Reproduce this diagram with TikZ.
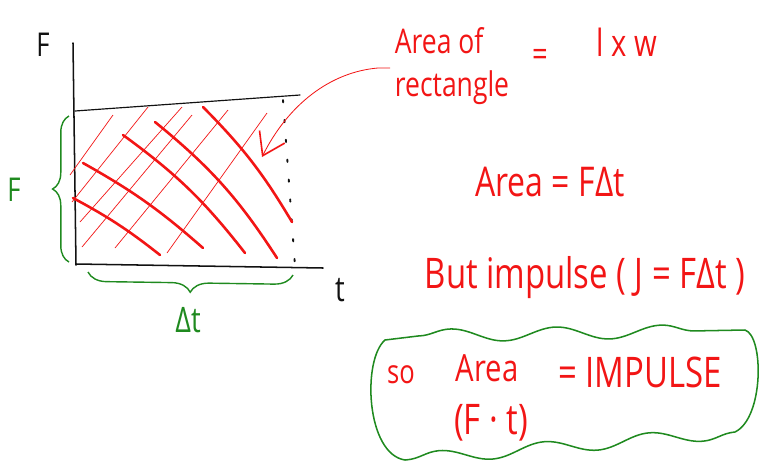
\documentclass[tikz,border=0pt]{standalone}
\usepackage{fontspec}
\setmainfont{Open Sans}[FakeStretch=0.78]
\usetikzlibrary{arrows.meta,positioning,decorations.pathreplacing,decorations.pathmorphing}
\definecolor{InkRed}{HTML}{F21515}
\definecolor{InkGreen}{HTML}{1F8A1F}
\definecolor{InkBlack}{HTML}{111111}

\begin{document}
\begin{tikzpicture}[
  x=0.03cm, y=-0.03cm,
  txt/.style={inner sep=0pt, font=\fontsize{#1}{#1}\selectfont},
  redtxt/.style={txt=#1, color=InkRed},
  greentxt/.style={txt=#1, color=InkGreen},
  axis/.style={InkBlack, line width=1.3pt, line cap=round},
  thinhatch/.style={InkRed, line width=0.6pt},
  thickhatch/.style={InkRed, line width=2.2pt, line cap=round},
  bracket/.style={InkGreen, line width=1.2pt, decorate,
                  decoration={brace, amplitude=#1}},
  pointer/.style={InkRed, line width=0.7pt,
                  -{Straight Barb[length=18pt, width=24pt, line width=1.4pt]}},
  cloud/.style={InkGreen, line width=1.3pt, line join=round,
                decoration={snake, amplitude=5.5pt, segment length=90pt}}
]
  \useasboundingbox (0,0) rectangle (759,469);

  % axes and the rectangle
  \node[txt=28, color=InkBlack] (lblF) at (43,45) {F};
  \node[txt=30, color=InkBlack] (lblt) at (340,290) {t};
  \draw[axis] (73,43) -- (76,265);
  \draw[axis] (76,264) -- (323,268);
  \draw[axis, line width=1pt] (75,111) -- (300,95);
  \draw[axis, line width=1.6pt, dash pattern=on 2pt off 15pt] (283,100) -- (295,266);

  % hatching
  \draw[thinhatch] (70,175) -- (113,115);
  \draw[thinhatch] (72,202) -- (148,107);
  \draw[thinhatch] (80,222) -- (182,107);
  \draw[thinhatch] (82,247) -- (192,115);
  \draw[thinhatch] (115,248) -- (228,110);
  \draw[thinhatch] (167,253) -- (267,113);
  \draw[thickhatch] (73,198) to[bend left=5] (160,255);
  \draw[thickhatch] (83,163) to[bend left=6] (203,248);
  \draw[thickhatch] (123,135) to[bend left=8] (245,253);
  \draw[thickhatch] (155,122) to[bend left=9] (277,258);
  \draw[thickhatch] (203,107) to[bend left=7] (292,222);

  % sides
  \draw[bracket=14pt] (69,262) -- (69,116);
  \draw[bracket=16pt] (293,275) -- (88,272);
  \node[greentxt=28] (lblside) at (14,190) {F};
  \node[greentxt=30] (lbldt) at (188,320) {Δt};

  % area of rectangle
  \node[redtxt=29, font=\fontsize{29}{36}\selectfont, align=left]
    (arearect) at (452,66) {Area of\\rectangle};
  \node[redtxt=30] (eqa) at (540,58) {=};
  \node[redtxt=32] (lxw) at (627,42) {l x w};
  \coordinate (arrstart) at (390,68);
  \coordinate (arrtip) at (262,157);
  \draw[pointer] (arrstart) -- (378,68) .. controls (330,72) and (288,105) .. (arrtip);

  \node[redtxt=35] (areafdt) at (550,182) {Area = FΔt};
  \node[redtxt=36] (butimp) at (585,278) {But impulse ( J = FΔt )};

  % conclusion
  \draw[cloud] (385,340) -- (418,336)
    decorate {-- (745,330)}
    .. controls (764,336) and (764,418) .. (735,432)
    decorate {-- (405,460)}
    .. controls (366,454) and (362,360) .. cycle;
  \node[redtxt=28] (so) at (401,375) {so};
  \node[redtxt=32] (areab) at (487,368) {Area};
  \node[redtxt=36] (eqimp) at (640,372) {= IMPULSE};
  \node[redtxt=36] (fdott) at (491,423) {(F · t)};
\end{tikzpicture}
\end{document}
